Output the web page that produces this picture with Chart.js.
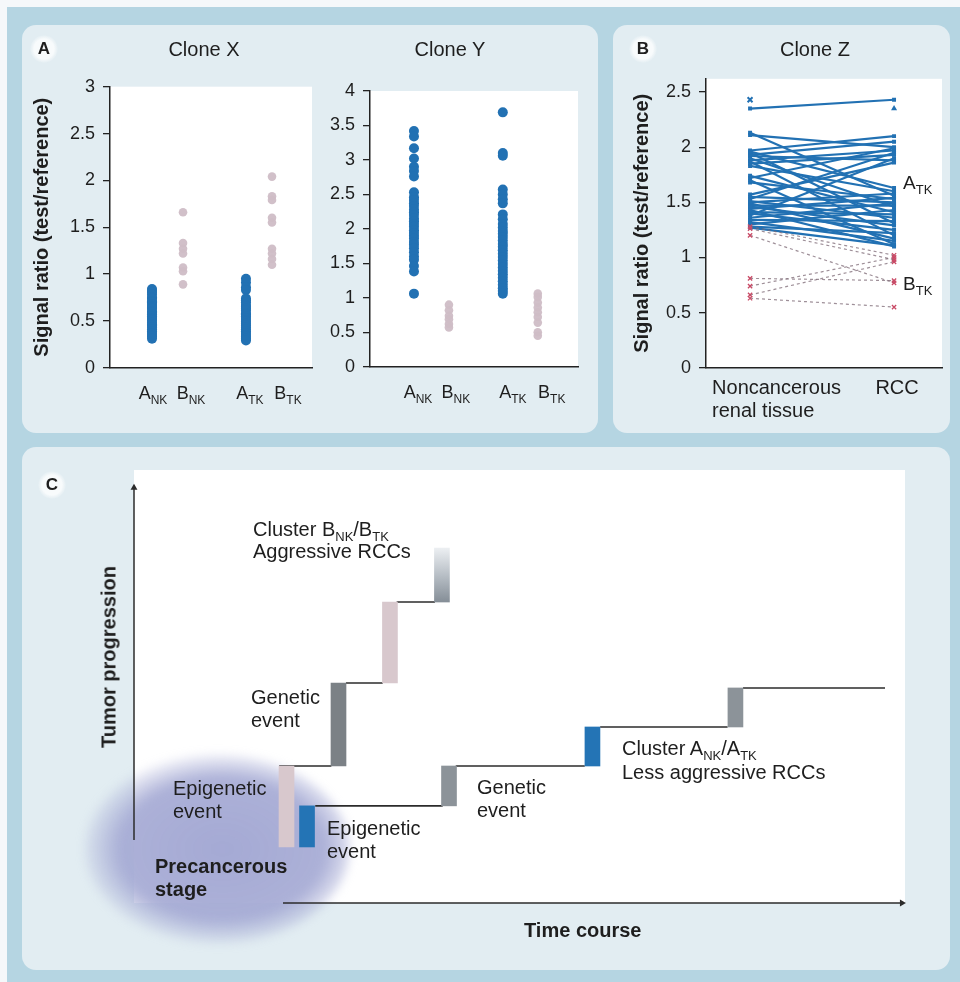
<!DOCTYPE html>
<html>
<head>
<meta charset="utf-8">
<script src="https://cdn.jsdelivr.net/npm/chart.js@4.4.1/dist/chart.umd.min.js"></script>
<style>
  body { margin: 0; background: #f5f8fa; font-family: 'Liberation Sans', Arial, Helvetica, sans-serif; color: #1e1e1e; }
  #page { position: relative; width: 960px; height: 982px; overflow: hidden; }
  .frame { position: absolute; left: 7px; top: 7px; width: 953px; height: 975px; background: #b5d5e2; }
  .panel { position: absolute; background: #e2edf2; border-radius: 14px; }
  canvas { position: absolute; }
  .t { position: absolute; font-size: 20px; line-height: 23px; white-space: nowrap; }
  .t sub { font-size: 13px; vertical-align: -5px; line-height: 0; }
  .c { transform: translateX(-50%); }
  .b { font-weight: bold; }
  .lbl { position: absolute; width: 28px; height: 28px; margin: -14px 0 0 -14px; border-radius: 50%;
         background: radial-gradient(circle, #f8fbfc 50%, rgba(248,251,252,0) 72%);
         font-weight: bold; font-size: 17px; text-align: center; line-height: 28px; }
  #plotC { position: absolute; left: 134px; top: 470px; width: 771px; height: 433px; background: #fff; }
  #blob { position: absolute; left: 84px; top: 754px; width: 266px; height: 190px; border-radius: 50%;
          background: radial-gradient(ellipse at 52% 50%, rgba(160,165,210,0.95) 0%, rgba(163,168,211,0.9) 52%, rgba(172,177,214,0) 74%);
          filter: blur(5px); }
</style>
</head>
<body>
<div id="page">
  <div class="frame"></div>
  <div class="panel" style="left:22px;top:25px;width:576px;height:408px"></div>
  <div class="panel" style="left:613px;top:25px;width:337px;height:408px"></div>
  <div class="panel" style="left:22px;top:447px;width:928px;height:523px"></div>
  <div id="plotC"></div>
  <div id="blob"></div>

  <canvas id="cloneX" width="300" height="360" style="left:22px;top:60px"></canvas>
  <canvas id="cloneY" width="270" height="360" style="left:322px;top:60px"></canvas>
  <canvas id="cloneZ" width="336" height="370" style="left:614px;top:60px"></canvas>
  <canvas id="model" width="928" height="523" style="left:22px;top:447px"></canvas>

  <div class="lbl" style="left:44px;top:49px">A</div>
  <div class="lbl" style="left:643px;top:49px">B</div>
  <div class="lbl" style="left:52px;top:485px">C</div>

  <div class="t c" style="left:204px;top:38px">Clone X</div>
  <div class="t c" style="left:450px;top:38px">Clone Y</div>
  <div class="t c" style="left:815px;top:38px">Clone Z</div>

  <div class="t" style="left:253px;top:518px;line-height:22px">Cluster B<sub>NK</sub>/B<sub>TK</sub><br>Aggressive RCCs</div>
  <div class="t" style="left:251px;top:686px">Genetic<br>event</div>
  <div class="t" style="left:173px;top:777px">Epigenetic<br>event</div>
  <div class="t" style="left:327px;top:817px">Epigenetic<br>event</div>
  <div class="t b" style="left:155px;top:855px">Precancerous<br>stage</div>
  <div class="t" style="left:477px;top:776px">Genetic<br>event</div>
  <div class="t" style="left:622px;top:736px;line-height:24px">Cluster A<sub>NK</sub>/A<sub>TK</sub><br>Less aggressive RCCs</div>
  <div class="t b" style="left:524px;top:919px">Time course</div>
  <div class="t b" style="left:109px;top:657px;transform:translate(-50%,-50%) rotate(-90deg)">Tumor progression</div>
</div>

<script>
// ---- Panel A: Clone X ----
const cloneCats = ['A_NK', 'B_NK', 'A_TK', 'B_TK'];
const cxTicks = [0, 0.5, 1, 1.5, 2, 2.5, 3];
const cxPos = [1, 2, 4.03, 4.87];
const cxANK = [0.84, 0.82, 0.8, 0.78, 0.75, 0.74, 0.71, 0.7, 0.68, 0.66, 0.64, 0.63, 0.6, 0.59, 0.57, 0.55, 0.53, 0.52, 0.5, 0.48, 0.46, 0.45, 0.43, 0.41, 0.39, 0.37, 0.35, 0.33, 0.31];
const cxBNK = [1.66, 1.33, 1.27, 1.22, 1.07, 1.03, 0.89];
const cxATK = [0.95, 0.91, 0.86, 0.83, 0.74, 0.72, 0.7, 0.67, 0.65, 0.63, 0.61, 0.58, 0.57, 0.55, 0.53, 0.51, 0.49, 0.47, 0.45, 0.43, 0.41, 0.39, 0.37, 0.35, 0.33, 0.31, 0.29];
const cxBTK = [2.04, 1.83, 1.79, 1.6, 1.55, 1.27, 1.22, 1.16, 1.1];

// ---- Panel A: Clone Y ----
const cyTicks = [0, 0.5, 1, 1.5, 2, 2.5, 3, 3.5, 4];
const cyPos = [1, 2, 3.54, 4.54];
const cyANK = [3.42, 3.34, 3.17, 3.02, 2.9, 2.84, 2.76, 2.53, 2.46, 2.42, 2.37, 2.33, 2.28, 2.24, 2.2, 2.15, 2.11, 2.07, 2.03, 1.98, 1.94, 1.9, 1.86, 1.81, 1.77, 1.72, 1.66, 1.6, 1.55, 1.46, 1.38, 1.06];
const cyBNK = [0.9, 0.82, 0.74, 0.69, 0.62, 0.57];
const cyATK = [3.69, 3.1, 3.06, 2.57, 2.5, 2.43, 2.37, 2.21, 2.14, 2.07, 2.02, 1.97, 1.93, 1.88, 1.83, 1.78, 1.74, 1.69, 1.64, 1.59, 1.54, 1.49, 1.44, 1.39, 1.34, 1.29, 1.24, 1.19, 1.14, 1.1, 1.06];
const cyBTK = [1.06, 1.01, 0.93, 0.86, 0.79, 0.72, 0.64, 0.5, 0.45];

// ---- Panel B: Clone Z (paired samples) ----
const zCats = [['Noncancerous', 'renal tissue'], 'RCC'];
const czTicks = [0, 0.5, 1, 1.5, 2, 2.5];
const zNK  = [2.35, 2.13, 2.11, 1.97, 1.96, 1.95, 1.93, 1.92, 1.9, 1.88, 1.87, 1.85, 1.83, 1.74, 1.72, 1.7, 1.68, 1.57, 1.55, 1.53, 1.51, 1.5, 1.49, 1.47, 1.46, 1.44, 1.43, 1.41, 1.4, 1.38, 1.36, 1.34, 1.32, 1.3, 1.28, 1.27];
const zRCC = [2.43, 1.56, 2.0, 2.1, 1.63, 1.31, 2.05, 1.88, 1.46, 1.97, 1.2, 1.93, 1.6, 1.41, 1.99, 1.12, 1.53, 1.86, 1.5, 1.95, 1.36, 1.58, 1.17, 1.47, 1.29, 1.54, 1.1, 1.39, 1.25, 1.9, 1.49, 1.33, 1.15, 1.43, 1.22, 1.11];
const zLoneNK = [2.43];
const zLoneRCC = [2.35];
const bNK  = [1.28, 1.26, 1.2, 0.81, 0.74, 0.66, 0.63];
const bRCC = [1.02, 0.98, 0.77, 0.79, 1.0, 0.96, 0.55];

// ---- Panel C: progression model (time units 0-100, progression units 0-100) ----
const stepX    = [19.86, 22.53, 26.63, 33.33, 40.1, 41.02, 59.7, 78.32];
const stepLow  = [13.5, 13.5, 33.0, 53.0, 72.5, 23.4, 33.0, 42.4];
const stepHigh = [33.0, 23.4, 53.0, 72.5, 85.5, 33.0, 42.4, 51.8];
const stepKind = ['epi', 'epiA', 'genB', 'epi', 'late', 'gen', 'epiA', 'gen'];
const levelY   = [23.4, 33.0, 42.4, 51.8, 33.0, 53.0, 72.5];
const levelX0  = [23.6, 41.9, 60.7, 79.3, 18.9, 27.6, 34.2];
const levelX1  = [40.2, 58.7, 77.3, 97.8, 25.7, 32.4, 39.2];
const progAxis = [15.2, 100];
const timeAxis = [19.4, 100];

const FAM = "'Liberation Sans', Arial, Helvetica, sans-serif";
const INK = '#1e1e1e';
const BLUE = '#2271b3';
const PINK = 'rgba(207,189,198,0.95)';
Chart.defaults.font.family = FAM;

function drawSub(ctx, main, sub, x, yMid, size, align) {
  ctx.save();
  ctx.fillStyle = INK;
  ctx.textBaseline = 'alphabetic';
  ctx.textAlign = 'left';
  const small = Math.round(size * 0.66);
  ctx.font = size + 'px ' + FAM;
  const w1 = ctx.measureText(main).width;
  ctx.font = small + 'px ' + FAM;
  const w2 = ctx.measureText(sub).width;
  const x0 = align === 'center' ? x - (w1 + w2) / 2 : x;
  const base = yMid + 0.358 * size;
  ctx.font = size + 'px ' + FAM;
  ctx.fillText(main, x0, base);
  ctx.font = small + 'px ' + FAM;
  ctx.fillText(sub, x0 + w1, base + size * 0.28);
  ctx.restore();
}

const whiteArea = {
  id: 'whiteArea',
  beforeDraw(chart) {
    const { ctx, chartArea: a } = chart;
    ctx.save();
    ctx.fillStyle = '#ffffff';
    ctx.fillRect(a.left, a.top, a.right - a.left, a.bottom - a.top);
    ctx.restore();
  }
};

const catLabels = {
  id: 'catLabels',
  afterDraw(chart, args, opts) {
    const { ctx, chartArea, scales: { x } } = chart;
    opts.labels.forEach((lab, i) => {
      const [m, s] = lab.split('_');
      drawSub(ctx, m, s, x.getPixelForValue(opts.at[i]) + opts.shift[i], chartArea.bottom + 25, 18, 'center');
    });
  }
};

function yAxis(ticks, max, width, title) {
  return {
    type: 'linear', min: 0, max,
    afterFit: s => { s.width = width; },
    afterBuildTicks: s => { s.ticks = ticks.map(v => ({ value: v })); },
    ticks: { color: INK, padding: 8, font: { size: 18 }, callback: v => String(v) },
    grid: { drawOnChartArea: false, drawTicks: true, tickLength: 7, color: '#222', lineWidth: 1.3 },
    border: { display: true, color: '#222', width: 1.5 },
    title: title ? { display: true, text: title, color: INK, padding: 0, font: { size: 20, weight: 'bold' } } : { display: false }
  };
}

function xAxis(min, max) {
  return {
    type: 'linear', min, max,
    afterFit: s => { s.height = 0; },
    ticks: { display: false },
    grid: { display: false },
    border: { display: true, color: '#222', width: 1.5 }
  };
}

function dots(pos, values, color, r) {
  return {
    data: values.map(v => ({ x: pos, y: v })),
    pointRadius: r, pointBackgroundColor: color, pointBorderWidth: 0, pointHoverRadius: r
  };
}

function dotChart(id, pos, series, ticks, yMax, yw, title, pad, shift) {
  const colors = [BLUE, PINK, BLUE, PINK];
  const radii = [5, 4.3, 5, 4.3];
  new Chart(document.getElementById(id), {
    type: 'scatter',
    data: { datasets: series.map((s, i) => dots(pos[i], s, colors[i], radii[i])) },
    options: {
      responsive: false, animation: false, devicePixelRatio: 1,
      layout: { padding: pad },
      scales: { x: xAxis(pad.xmin, pad.xmax), y: yAxis(ticks, yMax, yw, title) },
      plugins: {
        legend: { display: false }, tooltip: { enabled: false },
        catLabels: { labels: cloneCats, at: pos, shift }
      }
    },
    plugins: [whiteArea, catLabels]
  });
}

dotChart('cloneX', cxPos, [cxANK, cxBNK, cxATK, cxBTK], cxTicks, 3, 80, 'Signal ratio (test/reference)',
  { left: 8, right: 10, top: 26.7, bottom: 52.3, xmin: -0.355, xmax: 6.16 }, [1, 8, 4, 16]);
dotChart('cloneY', cyPos, [cyANK, cyBNK, cyATK, cyBTK], cyTicks, 4, 40, null,
  { left: 8, right: 14, top: 31, bottom: 53.3, xmin: -0.257, xmax: 5.69 }, [4, 7, 10, 14]);

// ---- Clone Z ----
const zLabels = {
  id: 'zLabels',
  afterDraw(chart) {
    const { ctx, chartArea, scales: { x, y } } = chart;
    ctx.save();
    ctx.fillStyle = INK;
    ctx.font = '20px ' + FAM;
    ctx.textBaseline = 'middle';
    ctx.textAlign = 'left';
    const nx = x.getPixelForValue(0) - 38;
    ctx.fillText(zCats[0][0], nx, chartArea.bottom + 21);
    ctx.fillText(zCats[0][1], nx, chartArea.bottom + 44);
    ctx.textAlign = 'center';
    ctx.fillText(zCats[1], x.getPixelForValue(1) + 3, chartArea.bottom + 21);
    ctx.restore();
    drawSub(ctx, 'A', 'TK', x.getPixelForValue(1) + 9, y.getPixelForValue(1.685), 19, 'left');
    drawSub(ctx, 'B', 'TK', x.getPixelForValue(1) + 9, y.getPixelForValue(0.765), 19, 'left');
  }
};

const zSets = [];
bNK.forEach((v, i) => zSets.push({
  data: [{ x: 0, y: v }, { x: 1, y: bRCC[i] }], showLine: true,
  borderColor: 'rgba(125,105,118,0.75)', borderWidth: 1.2, borderDash: [3, 3],
  pointStyle: 'crossRot', pointRadius: 3, pointBorderColor: '#c94a66', pointBorderWidth: 1.3
}));
zNK.forEach((v, i) => zSets.push({
  data: [{ x: 0, y: v }, { x: 1, y: zRCC[i] }], showLine: true,
  borderColor: BLUE, borderWidth: 2.2,
  pointStyle: 'rect', pointRadius: 2.8, pointBackgroundColor: BLUE, pointBorderWidth: 0
}));
zSets.push({ data: zLoneNK.map(v => ({ x: 0, y: v })), pointStyle: 'crossRot', pointRadius: 3.5, pointBorderColor: BLUE, pointBorderWidth: 2 });
zSets.push({ data: zLoneRCC.map(v => ({ x: 1, y: v })), pointStyle: 'triangle', pointRadius: 3.5, pointBackgroundColor: BLUE, pointBorderWidth: 0 });

new Chart(document.getElementById('cloneZ'), {
  type: 'scatter',
  data: { datasets: zSets },
  options: {
    responsive: false, animation: false, devicePixelRatio: 1,
    layout: { padding: { left: 16, right: 8, top: 13, bottom: 62.3 } },
    scales: { x: xAxis(-0.306, 1.333), y: yAxis(czTicks, 2.62, 76, 'Signal ratio (test/reference)') },
    plugins: { legend: { display: false }, tooltip: { enabled: false } }
  },
  plugins: [whiteArea, zLabels]
});

// ---- Panel C ----
const stepColors = { epi: '#d8c8cd', epiA: '#2474b5', genB: '#7b8186', gen: '#8c9399' };
const modelSets = [{
  type: 'bar',
  data: stepX.map((x, i) => ({ x, y: [stepLow[i], stepHigh[i]] })),
  barThickness: 15, borderWidth: 0,
  backgroundColor: c => {
    const kind = stepKind[c.dataIndex];
    if (kind !== 'late') return stepColors[kind];
    const chart = c.chart;
    if (!chart.chartArea) return '#9aa1a8';
    const ys = chart.scales.y;
    const g = chart.ctx.createLinearGradient(0, ys.getPixelForValue(stepHigh[c.dataIndex]), 0, ys.getPixelForValue(stepLow[c.dataIndex]));
    g.addColorStop(0, '#eceff2');
    g.addColorStop(0.5, '#b8bfc6');
    g.addColorStop(1, '#858e97');
    return g;
  }
}];
levelY.forEach((y, i) => modelSets.push({
  type: 'scatter', showLine: true,
  data: [{ x: levelX0[i], y }, { x: levelX1[i], y }],
  borderColor: '#2b2b2b', borderWidth: 1.6, pointRadius: 0
}));
modelSets.push({
  type: 'scatter', showLine: true, clip: false,
  data: progAxis.map(v => ({ x: 0, y: v })),
  borderColor: '#2b2b2b', borderWidth: 1.5,
  pointStyle: 'triangle', pointRadius: [0, 4], pointBackgroundColor: '#2b2b2b', pointBorderWidth: 0
});
modelSets.push({
  type: 'scatter', showLine: true, clip: false,
  data: timeAxis.map(v => ({ x: v, y: 0 })),
  borderColor: '#2b2b2b', borderWidth: 1.5,
  pointStyle: 'triangle', pointRotation: 90, pointRadius: [0, 4], pointBackgroundColor: '#2b2b2b', pointBorderWidth: 0
});

new Chart(document.getElementById('model'), {
  type: 'bar',
  data: { datasets: modelSets },
  options: {
    responsive: false, animation: false, devicePixelRatio: 1,
    layout: { padding: { left: 112, right: 45, top: 23, bottom: 67 } },
    scales: {
      x: { type: 'linear', min: 0, max: 100.4, display: false, offset: false },
      y: { type: 'linear', min: 0, max: 104.3, display: false }
    },
    plugins: { legend: { display: false }, tooltip: { enabled: false } }
  }
});
</script>
</body>
</html>
